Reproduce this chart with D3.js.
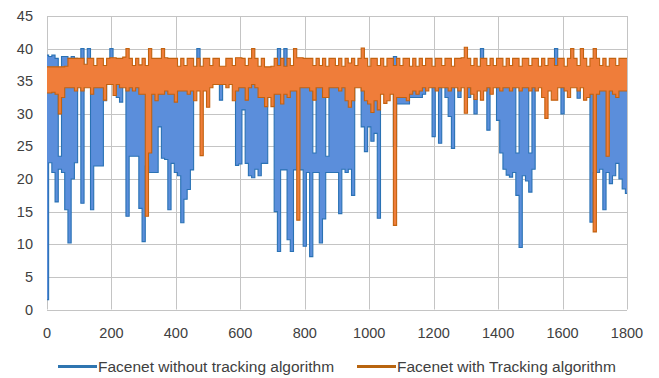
<!DOCTYPE html>
<html>
<head>
<meta charset="utf-8">
<script src="https://cdn.jsdelivr.net/npm/d3@7"></script>
<style>
  body { margin: 0; background: #fff; }
  svg { display: block; font-family: 'Liberation Sans', Arial, sans-serif; }
</style>
</head>
<body>
<div id="chart"></div>
<script>
// frame index of each 10-frame bin
const frames = d3.range(0, 1801, 10);

// envelope of "Facenet without tracking algorithm" per bin (low / high score)
const blueLo = [
  1.5, 22.5, 21.0, 16.5, 21.5, 21.0, 15.3, 10.2, 20.0, 22.5,
  34.8, 16.3, 34.8, 34.8, 15.3, 22.0, 22.0, 22.0, 32.0, 34.8,
  34.8, 34.8, 32.5, 31.8, 34.8, 14.3, 23.5, 23.5, 23.5, 15.5,
  10.4, 22.0, 21.0, 21.0, 21.0, 28.0, 23.2, 23.0, 15.3, 22.4,
  21.0, 20.5, 13.3, 16.9, 18.4, 21.4, 34.8, 34.8, 34.8, 34.8,
  34.8, 34.8, 34.8, 34.8, 32.1, 34.8, 34.8, 34.8, 34.8, 22.1,
  22.3, 30.6, 22.4, 20.5, 20.2, 21.5, 20.5, 22.4, 22.4, 34.8,
  34.8, 15.0, 8.9, 21.4, 21.4, 10.7, 8.9, 21.4, 21.4, 21.4,
  9.7, 21.0, 8.1, 21.0, 21.0, 10.2, 13.9, 21.0, 21.0, 21.0,
  21.0, 14.7, 21.5, 21.0, 21.5, 17.5, 34.8, 34.8, 28.0, 24.2,
  28.0, 25.8, 27.0, 14.0, 34.8, 34.8, 34.8, 34.8, 25.0, 31.5,
  31.5, 31.5, 31.5, 32.5, 32.5, 32.5, 32.5, 33.0, 34.8, 34.8,
  26.5, 34.8, 25.5, 34.8, 32.5, 29.6, 24.7, 34.8, 32.5, 34.8,
  34.8, 32.5, 34.8, 30.0, 34.8, 34.8, 34.8, 27.5, 34.8, 34.8,
  29.0, 24.0, 21.5, 20.6, 20.3, 21.0, 17.5, 9.5, 20.5, 19.7,
  18.0, 21.5, 34.8, 34.8, 34.8, 34.8, 34.8, 34.8, 34.8, 34.8,
  30.0, 34.8, 34.8, 34.8, 34.8, 32.4, 34.8, 34.8, 34.8, 13.4,
  21.0, 21.0, 21.5, 15.3, 21.0, 19.3, 20.5, 22.4, 20.0, 18.5,
  17.8
];
const blueHi = [
  39.0, 38.8, 39.0, 38.5, 23.5, 38.8, 38.8, 38.5, 38.8, 38.5,
  37.0, 40.0, 37.0, 40.0, 37.0, 37.0, 37.0, 37.0, 37.0, 37.0,
  40.0, 37.0, 37.0, 37.0, 37.0, 37.0, 37.0, 37.0, 37.0, 37.0,
  37.0, 37.0, 37.0, 37.0, 37.0, 37.0, 37.0, 37.0, 37.0, 37.0,
  37.0, 37.0, 37.0, 37.0, 37.0, 37.0, 37.0, 40.0, 37.0, 37.0,
  37.0, 37.0, 37.0, 37.0, 37.0, 37.0, 37.0, 37.0, 37.0, 37.0,
  37.0, 37.0, 37.0, 37.0, 37.0, 37.0, 37.0, 37.0, 37.0, 37.0,
  37.0, 37.0, 40.0, 37.0, 40.0, 37.0, 37.0, 37.0, 37.0, 37.0,
  37.0, 37.0, 37.0, 24.0, 37.0, 37.0, 37.0, 23.5, 37.0, 37.0,
  37.0, 37.0, 37.0, 37.0, 37.0, 37.0, 37.0, 37.0, 37.0, 37.0,
  37.0, 37.0, 37.0, 37.0, 37.0, 37.0, 37.0, 37.0, 38.8, 37.0,
  37.0, 37.0, 37.0, 37.0, 37.0, 37.0, 37.0, 37.0, 37.0, 37.0,
  37.0, 37.0, 37.0, 37.0, 37.0, 37.0, 37.0, 37.0, 37.0, 37.0,
  37.0, 37.0, 37.0, 37.0, 37.0, 40.0, 37.0, 37.0, 37.0, 37.0,
  37.0, 37.0, 37.0, 37.0, 37.0, 37.0, 24.0, 37.0, 37.0, 37.0,
  24.0, 37.0, 37.0, 37.0, 37.0, 37.0, 37.0, 37.0, 40.0, 37.0,
  37.0, 37.0, 37.0, 37.0, 37.0, 37.0, 37.0, 37.0, 37.0, 37.0,
  37.0, 37.0, 37.0, 37.0, 37.0, 37.0, 37.0, 37.0, 37.0, 37.0,
  37.0
];

// envelope of "Facenet with Tracking algorithm" per bin
const orangeLo = [
  33.2, 33.2, 33.3, 33.0, 30.0, 32.5, 34.0, 34.0, 34.0, 33.5,
  34.0, 33.5, 34.0, 34.0, 33.0, 34.0, 34.0, 34.0, 32.1, 34.5,
  34.5, 32.8, 34.5, 34.0, 34.0, 33.5, 34.0, 33.5, 34.0, 33.0,
  33.0, 14.3, 24.0, 33.0, 32.0, 33.0, 33.0, 33.5, 33.0, 33.0,
  31.8, 33.5, 33.5, 33.5, 33.0, 33.5, 32.0, 33.5, 23.6, 33.5,
  31.0, 34.0, 34.5, 34.5, 34.5, 34.5, 34.0, 34.5, 32.0, 33.5,
  34.0, 34.0, 32.1, 34.0, 34.5, 34.0, 32.5, 32.5, 31.1, 32.5,
  31.1, 33.0, 33.0, 31.5, 33.0, 32.5, 33.5, 33.5, 13.7, 34.0,
  34.0, 34.0, 33.5, 32.1, 34.0, 34.0, 32.5, 32.5, 34.0, 34.0,
  34.0, 33.5, 34.0, 32.0, 31.0, 32.0, 34.0, 34.0, 33.5, 32.0,
  31.5, 30.2, 32.0, 30.6, 33.0, 31.6, 32.0, 33.0, 12.9, 32.5,
  32.5, 32.5, 32.0, 33.0, 33.5, 33.0, 33.5, 34.0, 33.5, 34.0,
  34.0, 33.5, 34.0, 34.0, 34.0, 33.5, 34.0, 34.0, 33.5, 34.0,
  30.1, 34.0, 33.0, 32.2, 33.5, 32.1, 33.5, 34.0, 33.0, 34.0,
  34.0, 33.5, 34.0, 34.0, 33.5, 34.0, 34.0, 33.5, 34.0, 34.0,
  33.5, 34.0, 33.5, 34.0, 32.5, 29.3, 33.5, 32.1, 32.1, 34.0,
  34.0, 33.5, 32.5, 34.0, 34.0, 33.5, 34.0, 32.1, 32.5, 33.0,
  11.9, 33.0, 33.5, 33.5, 23.5, 33.5, 33.0, 32.5, 33.5, 33.5,
  33.5
];
const orangeHi = [
  37.2, 37.2, 37.2, 37.2, 37.2, 37.2, 37.3, 38.5, 38.5, 38.5,
  38.5, 38.5, 37.6, 38.5, 38.5, 37.4, 38.5, 38.5, 37.4, 38.5,
  38.6, 38.6, 38.5, 38.5, 38.7, 40.0, 38.5, 37.4, 38.5, 37.5,
  38.5, 37.4, 40.0, 38.5, 38.5, 38.5, 40.0, 38.6, 38.5, 38.5,
  38.5, 37.3, 38.5, 37.4, 38.5, 38.5, 37.3, 38.5, 37.3, 38.5,
  38.5, 37.4, 38.5, 38.5, 37.3, 37.3, 38.5, 38.5, 37.4, 38.6,
  38.6, 38.5, 37.4, 38.5, 40.0, 38.5, 37.3, 38.5, 37.2, 37.2,
  37.3, 38.5, 37.4, 38.5, 37.3, 38.5, 37.4, 40.0, 38.6, 38.6,
  38.5, 38.5, 38.5, 37.4, 38.5, 37.4, 38.5, 37.3, 38.5, 38.5,
  37.4, 38.5, 37.3, 38.5, 37.8, 38.5, 37.4, 38.5, 40.1, 38.5,
  37.3, 38.5, 38.5, 37.4, 38.5, 37.3, 38.5, 38.5, 37.4, 38.5,
  37.4, 38.5, 38.5, 37.3, 38.5, 37.3, 38.5, 37.4, 38.5, 38.5,
  37.3, 38.5, 38.5, 37.4, 38.5, 38.5, 37.3, 38.5, 38.5, 38.6,
  40.2, 38.5, 37.4, 38.5, 37.3, 38.5, 38.5, 37.4, 38.5, 37.4,
  38.5, 38.5, 37.3, 38.5, 37.4, 38.5, 38.5, 37.3, 38.5, 38.5,
  37.4, 38.5, 38.5, 37.3, 38.5, 37.4, 38.5, 38.5, 37.4, 38.5,
  38.5, 37.3, 38.5, 40.0, 38.5, 37.4, 40.0, 38.5, 37.3, 38.5,
  40.0, 38.5, 37.4, 38.5, 37.3, 38.5, 38.5, 37.4, 38.5, 38.5,
  38.5
];

const xTicks = [0, 200, 400, 600, 800, 1000, 1200, 1400, 1600, 1800];
const yTicks = [0, 5, 10, 15, 20, 25, 30, 35, 40, 45];

const series = [
  { name: 'Facenet without tracking algorithm', lo: blueLo, hi: blueHi, fill: '#5B8EDB', edge: '#2A72B4', key: '#2E75B0' },
  { name: 'Facenet with Tracking algorithm', lo: orangeLo, hi: orangeHi, fill: '#EF7D3A', edge: '#C2620F', key: '#B8640F' }
];

const width = 659, height = 378;
const plot = { left: 47, right: 627, top: 16, bottom: 309.5 };

const svg = d3.select('#chart').append('svg')
  .attr('width', width)
  .attr('height', height);

svg.append('rect').attr('width', width).attr('height', height).attr('fill', '#fff');

const x = d3.scaleLinear().domain([0, 1800]).range([plot.left, plot.right]);
const y = d3.scaleLinear().domain([0, 45]).range([plot.bottom, plot.top]);

// gridlines
svg.append('g').selectAll('line.h')
  .data(yTicks)
  .enter().append('line')
  .attr('x1', plot.left).attr('x2', plot.right)
  .attr('y1', d => Math.round(y(d)) + 0.5).attr('y2', d => Math.round(y(d)) + 0.5)
  .attr('stroke', '#C4C4C4').attr('stroke-width', 1);

svg.append('g').selectAll('line.v')
  .data(xTicks)
  .enter().append('line')
  .attr('x1', d => Math.round(x(d)) + 0.5).attr('x2', d => Math.round(x(d)) + 0.5)
  .attr('y1', plot.top).attr('y2', plot.bottom)
  .attr('stroke', '#C4C4C4').attr('stroke-width', 1);

// series bands: light fill between the low and high envelope, darker edges
series.forEach(s => {
  const area = d3.area()
    .curve(d3.curveStep)
    .x((d, i) => x(frames[i]))
    .y0((d, i) => y(s.lo[i]))
    .y1((d, i) => y(s.hi[i]));
  const lineLo = d3.line().curve(d3.curveStep).x((d, i) => x(frames[i])).y((d, i) => y(s.lo[i]));
  const lineHi = d3.line().curve(d3.curveStep).x((d, i) => x(frames[i])).y((d, i) => y(s.hi[i]));

  svg.append('path').datum(frames).attr('d', area).attr('fill', s.fill);
  svg.append('path').datum(frames).attr('d', lineLo)
    .attr('fill', 'none').attr('stroke', s.edge).attr('stroke-width', 1.1);
  svg.append('path').datum(frames).attr('d', lineHi)
    .attr('fill', 'none').attr('stroke', s.edge).attr('stroke-width', 1.1);
});

// axis labels
svg.append('g').selectAll('text')
  .data(yTicks)
  .enter().append('text')
  .attr('x', 33)
  .attr('y', d => y(d) + 5)
  .attr('text-anchor', 'end')
  .style('font-size', '14.5px')
  .attr('fill', '#404040')
  .text(d => d);

svg.append('g').selectAll('text')
  .data(xTicks)
  .enter().append('text')
  .attr('x', d => x(d))
  .attr('y', 338)
  .attr('text-anchor', 'middle')
  .style('font-size', '14.5px')
  .attr('fill', '#404040')
  .text(d => d);

// legend
const legend = svg.append('g');
const legendX = [58, 357];
series.forEach((s, i) => {
  legend.append('line')
    .attr('x1', legendX[i]).attr('x2', legendX[i] + 39)
    .attr('y1', 366.5).attr('y2', 366.5)
    .attr('stroke', s.key).attr('stroke-width', 3);
  legend.append('text')
    .attr('x', legendX[i] + 40)
    .attr('y', 371.5)
    .style('font-size', '15.5px')
    .attr('fill', '#404040')
    .text(s.name);
});
</script>
</body>
</html>
